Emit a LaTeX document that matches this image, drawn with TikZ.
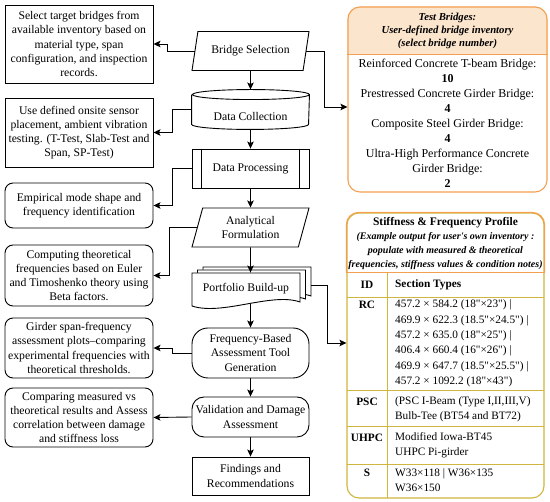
\documentclass[tikz,border=0pt]{standalone}
\usepackage{fontspec}
\setmainfont{Liberation Serif}[Ligatures=TeXOff]
\usetikzlibrary{shapes.geometric,arrows.meta,backgrounds}

\definecolor{panelorange}{RGB}{243,160,82}
\definecolor{panelfill}{RGB}{252,229,205}
\definecolor{gridgold}{RGB}{208,182,62}

\begin{document}
\begin{tikzpicture}[
	x=1pt, y=-1pt,
	note/.style={
		rectangle,
		draw=black,
		line width=0.9pt,
		align=center,
		minimum width=148pt,
		inner sep=2pt,
		font=\fontsize{11.7}{14.2}\selectfont
	},
	roundnote/.style={
		note,
		rounded corners=8pt
	},
	flow/.style={
		rectangle,
		draw=black,
		line width=0.9pt,
		align=center,
		minimum width=117pt,
		minimum height=39pt,
		inner sep=2pt,
		font=\fontsize{11.7}{14.2}\selectfont
	},
	inout/.style={
		flow,
		trapezium,
		trapezium left angle=68,
		trapezium right angle=112,
		trapezium stretches body
	},
	panel/.style={
		rectangle,
		rounded corners=12pt,
		draw=panelorange,
		line width=1.1pt
	},
	panelhead/.style={
		align=center,
		inner sep=1pt,
		font=\fontsize{10.7}{12.7}\selectfont\bfseries\itshape
	},
	panelbody/.style={
		align=center,
		inner sep=1pt,
		font=\fontsize{12}{15}\selectfont
	},
	tabtitle/.style={
		inner sep=1pt,
		font=\fontsize{11.5}{14}\selectfont\bfseries
	},
	tabnote/.style={
		align=center,
		inner sep=1pt,
		font=\fontsize{10}{14}\selectfont\bfseries\itshape
	},
	tabid/.style={
		inner sep=1pt,
		font=\fontsize{11.3}{15.4}\selectfont\bfseries
	},
	tabcell/.style={
		anchor=west,
		align=left,
		inner sep=2pt,
		font=\fontsize{11.3}{15.4}\selectfont
	},
	grid/.style={draw=gridgold, line width=0.9pt},
	edge/.style={-{Stealth[length=7pt,width=6.5pt,inset=1.5pt]}, line width=0.9pt}
]
\useasboundingbox (0,0) rectangle (550,502);

% Main flow
\node[inout] (bsel) at (250.5,51) {Bridge Selection};
\node[flow, draw=none, text height=26pt, text depth=3pt] (dcol) at (250.5,109.5) {Data Collection};
\draw[line width=0.9pt] ([yshift=-5pt]dcol.north west) -- ([yshift=5pt]dcol.south west)
	arc[start angle=180, end angle=360, x radius=58.5pt, y radius=5pt]
	-- ([yshift=-5pt]dcol.north east)
	arc[start angle=0, end angle=360, x radius=58.5pt, y radius=5pt];
\node[flow] (dproc) at (250.5,168.5) {Data Processing};
\draw[line width=0.9pt] ([xshift=10pt]dproc.north west) -- ([xshift=10pt]dproc.south west);
\draw[line width=0.9pt] ([xshift=-10pt]dproc.north east) -- ([xshift=-10pt]dproc.south east);
\node[inout] (anf) at (250.5,227.5) {Analytical\\Formulation};
\node[flow, draw=none, minimum width=108pt, minimum height=31pt] (port) at (246,288.5) {Portfolio Build-up};
\begin{scope}[on background layer]
\foreach \d in {2,1,0}
	\filldraw[fill=white, line width=0.9pt, shift={(5.5*\d,-3*\d)}]
		(192,273) -- (300,273) -- (300,302) .. controls (272,292) and (222,316) .. (192,306) -- cycle;
\end{scope}
\node[flow, rounded corners=16pt, minimum height=50pt] (freq) at (250.5,353) {Frequency-Based\\Assessment Tool\\Generation};
\node[flow, rounded corners=12pt, minimum height=40pt] (val) at (250.5,417) {Validation and Damage\\Assessment};
\node[flow, minimum height=38pt] (find) at (250.5,476) {Findings and\\Recommendations};

% Side notes
\node[note, minimum height=78pt] (sel) at (79,44) {Select target bridges from\\available inventory based on\\material type, span\\configuration, and inspection\\records.};
\node[note, minimum height=69pt] (col) at (79,132.5) {Use defined onsite sensor\\placement, ambient vibration\\testing. (T-Test, Slab-Test and\\Span, SP-Test)};
\node[roundnote, minimum height=45pt] (emp) at (79,205.5) {Empirical mode shape and\\frequency identification};
\node[roundnote, minimum height=61pt] (theo) at (79,275.5) {Computing theoretical\\frequencies based on Euler\\and Timoshenko theory using\\Beta factors.};
\node[roundnote, minimum height=60pt] (plot) at (79,348) {Girder span-frequency\\assessment plots–comparing\\experimental frequencies with\\theoretical thresholds.};
\node[roundnote, minimum height=59pt] (comp) at (79,417.5) {Comparing measured vs\\theoretical results and Assess\\correlation between damage\\and stiffness loss};

% Test bridges panel
\node[panel, minimum width=199pt, minimum height=185pt] (tb) at (447.5,99.5) {};
\begin{scope}[on background layer]
	\clip[rounded corners=12pt] (tb.north west) rectangle (tb.south east);
	\fill[panelfill] (tb.north west) rectangle ([yshift=-48pt]tb.north east);
\end{scope}
\draw[panelorange, line width=1.1pt] ([yshift=-48pt]tb.north west) -- ([yshift=-48pt]tb.north east);
\node[panelhead] (tbhead) at (447.5,31) {Test Bridges:\\User-defined bridge inventory\\(select bridge number)};
\node[panelbody] (tblist) at (447.5,123) {Reinforced Concrete T-beam Bridge:\\\textbf{10}\\Prestressed Concrete Girder Bridge:\\\textbf{4}\\Composite Steel Girder Bridge:\\\textbf{4}\\Ultra-High Performance Concrete\\Girder Bridge:\\\textbf{2}};

% Stiffness panel
\node[panel, draw=gridgold, minimum width=197pt, minimum height=285pt] (sfp) at (445.5,355.5) {};
\begin{scope}[on background layer]
	\clip[rounded corners=12pt] (sfp.north west) rectangle (sfp.south east);
	\fill[panelfill] (sfp.north west) rectangle ([yshift=-60pt]sfp.north east);
\end{scope}
\draw[panelorange, line width=1.1pt, rounded corners=12pt] ([yshift=-60pt]sfp.north west) |- (sfp.north) -| ([yshift=-60pt]sfp.north east);
\draw[grid] (387,273) -- (387,498);
\draw[grid] (347,297) -- (544,297);
\draw[grid] (347,390) -- (544,390);
\draw[grid] (347,426) -- (544,426);
\draw[grid] (347,464) -- (544,464);
\draw[panelorange, line width=1.1pt] ([yshift=-60pt]sfp.north west) -- ([yshift=-60pt]sfp.north east);
\node[tabtitle] (sfptitle) at (445.5,223) {Stiffness \& Frequency Profile};
\node[tabnote] (sfpnote) at (445.5,251) {(Example output for user's own inventory :\\populate with measured \& theoretical\\frequencies, stiffness values \& condition notes)};
\node[tabid] (idh) at (367,285) {ID};
\node[tabid, anchor=west] (sech) at (394,285) {Section Types};
\node[tabid] (idrc) at (367,305) {RC};
\node[tabcell] (secrc) at (393,343.5) {457.2 × 584.2 (18"×23") |\\469.9 × 622.3 (18.5"×24.5") |\\457.2 × 635.0 (18"×25") |\\406.4 × 660.4 (16"×26") |\\469.9 × 647.7 (18.5"×25.5") |\\457.2 × 1092.2 (18"×43")};
\node[tabid] (idpsc) at (367,402) {PSC};
\node[tabcell] (secpsc) at (393,409.5) {(PSC I-Beam (Type I,II,III,V)\\Bulb-Tee (BT54 and BT72)};
\node[tabid] (iduhpc) at (367,438) {UHPC};
\node[tabcell] (secuhpc) at (393,445.5) {Modified Iowa-BT45\\UHPC Pi-girder};
\node[tabid] (ids) at (367,473) {S};
\node[tabcell] (secs) at (393,480) {W33×118 | W36×135\\W36×150};

% Flow arrows
\draw[edge] (bsel) -- (dcol);
\draw[edge] (dcol) -- (dproc);
\draw[edge] (dproc) -- (anf);
\draw[edge] (anf) -- (anf |- port.north);
\draw[edge] (anf |- port.south) -- (freq);
\draw[edge] (freq) -- (val);
\draw[edge] (val) -- (find);

% Arrows to notes
\draw[edge] (bsel.west) -- ++(-27,0) |- (sel.east);
\draw[edge] (dcol.west) -- ++(-19.5,0) |- (col.east);
\draw[edge] (dproc.west) -- ++(-19.5,0) |- (emp.east);
\draw[edge] (anf.west) -- ++(-27,0) |- (theo.east);
\draw[edge] (freq.west) -- ++(-19.5,0) |- (plot.east);
\draw[edge] (val.west) -- (comp.east);

% Arrows to panels
\draw[edge] (bsel.east) -- ++(18,0) |- ([yshift=-7.5pt]tb.west);
\draw[edge] ([xshift=11pt,yshift=3.5pt]port.east) -- ++(16,0) |- ([yshift=12.5pt]sfp.west);

\end{tikzpicture}
\end{document}
